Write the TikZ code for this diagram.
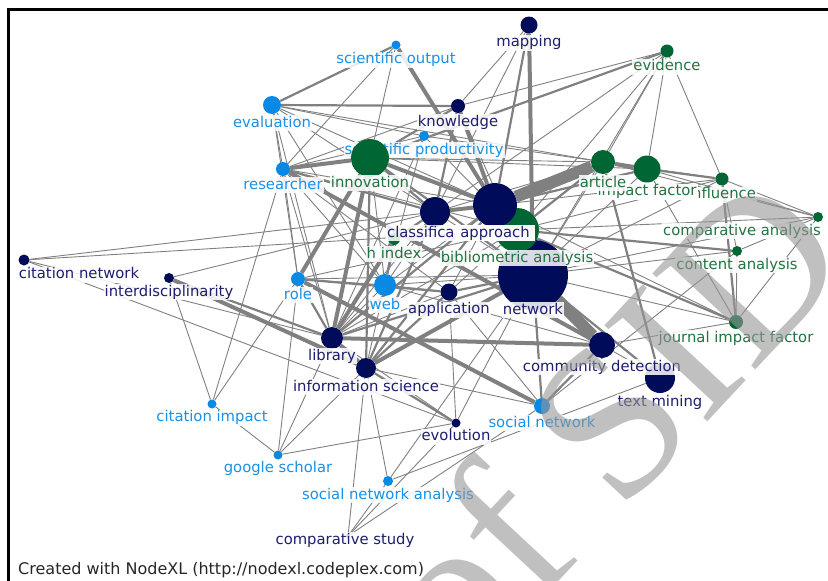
\documentclass[tikz,border=0pt]{standalone}
\usepackage{fontspec}
\setmainfont{DejaVu Sans}
\newfontfamily\markfont{Liberation Serif}
\usetikzlibrary{positioning}

\definecolor{navynode}{RGB}{0,12,90}
\definecolor{bluenode}{RGB}{8,138,228}
\definecolor{greennode}{RGB}{0,102,51}
\definecolor{navytext}{RGB}{30,30,110}
\definecolor{bluetext}{RGB}{25,145,230}
\definecolor{greentext}{RGB}{35,115,65}
\definecolor{linkgray}{RGB}{128,128,128}
\definecolor{markgray}{RGB}{150,150,150}

\pgfdeclarelayer{background}
\pgfsetlayers{background,main}

\begin{document}
\begin{tikzpicture}[x=1pt, y=-1pt,
    vtx/.style={circle, inner sep=0pt, minimum size=#1},
    navyvtx/.style={vtx=#1, fill=navynode},
    bluevtx/.style={vtx=#1, fill=bluenode},
    greenvtx/.style={vtx=#1, fill=greennode},
    lbl/.style={font=\fontsize{14.8}{16}\selectfont, inner sep=1pt, text height=11pt, text depth=3pt,
                fill=white, fill opacity=0.85, text opacity=1},
    navylbl/.style={lbl, text=navytext},
    bluelbl/.style={lbl, text=bluetext},
    greenlbl/.style={lbl, text=greentext},
    link/.style={draw=linkgray},
    thinlink/.style={link, line width=0.9pt},
    midlink/.style={link, line width=2.2pt},
    thicklink/.style={link, line width=4pt},
    widelink/.style={link, line width=12pt}
]
    \useasboundingbox (0,0) rectangle (828,581);

    % frame
    \draw[line width=3pt] (828,9.5) -| (8.5,581);

    % outer vertices
    \node[navyvtx=11pt] (citnet) at (24,260) {};
    \node[navylbl, below=1pt of citnet, xshift=55pt] {citation network};
    \node[navyvtx=10pt] (interdis) at (169,278) {};
    \node[navylbl, below=1pt of interdis] {interdisciplinarity};
    \node[bluevtx=9pt] (citimp) at (212,404) {};
    \node[bluelbl, below=1pt of citimp] {citation impact};
    \node[bluevtx=9pt] (google) at (278,455) {};
    \node[bluelbl, below=1pt of google] {google scholar};
    \node[bluevtx=10pt] (sna) at (388,481) {};
    \node[bluelbl, below=1pt of sna] {social network analysis};
    \node[navyvtx=4pt] (compstudy) at (348,536) {};
    \node[navylbl, below=-6pt of compstudy, xshift=-3pt] {comparative study};
    \node[navyvtx=9pt] (evolution) at (456,423) {};
    \node[navylbl, below=1pt of evolution] {evolution};
    \node[bluevtx=16pt] (socnet) at (542,406) {};
    \node[bluelbl, below=1pt of socnet] {social network};
    \node[navyvtx=30pt] (textmining) at (660,378) {};
    \node[navylbl, below=1pt of textmining] {text mining};
    \node[navyvtx=26pt] (community) at (602,345) {};
    \node[navylbl, below=1pt of community] {community detection};

    % right side
    \node[greenvtx=14pt] (jif) at (736,322) {};
    \node[greenlbl, below=1pt of jif] {journal impact factor};
    \node[greenvtx=10pt] (content) at (737,251) {};
    \node[greenlbl, below=1pt of content] {content analysis};
    \node[greenvtx=10pt] (companal) at (818,217) {};
    \node[greenlbl, below=1pt of companal, xshift=-76pt] {comparative analysis};
    \node[greenvtx=13pt] (influence) at (722,179) {};
    \node[greenlbl, below=1pt of influence] {influence};
    \node[greenvtx=27pt] (impact) at (647,169) {};
    \node[greenlbl, below=1pt of impact, fill opacity=0.95] {impact factor};
    \node[greenvtx=24pt] (article) at (603,162) {};
    \node[greenlbl, below=1pt of article] {article};
    \node[greenvtx=13pt] (evidence) at (667,51) {};
    \node[greenlbl, below=1pt of evidence] {evidence};

    % top and left
    \node[navyvtx=17pt] (mapping) at (529,25) {};
    \node[navylbl, below=1pt of mapping] {mapping};
    \node[bluevtx=9pt] (sciout) at (396,45) {};
    \node[bluelbl, below=2pt of sciout] {scientific output};
    \node[bluevtx=18pt] (evaluation) at (272,105) {};
    \node[bluelbl, below=1pt of evaluation] {evaluation};
    \node[navyvtx=14pt] (knowledge) at (458,106) {};
    \node[navylbl, below=1pt of knowledge] {knowledge};
    \node[bluevtx=10pt] (sciprod) at (424,136) {};
    \node[bluelbl, below=1pt of sciprod] {scientific productivity};
    \node[bluevtx=14pt] (researcher) at (283,169) {};
    \node[bluelbl, below=1pt of researcher] {researcher};
    \node[greenvtx=38pt] (innovation) at (370,158) {};
    \node[greenlbl, below=-2pt of innovation] {innovation};

    % centre
    \node[bluevtx=14pt] (role) at (298,279) {};
    \node[bluelbl, below=1pt of role] {role};
    \node[bluevtx=22pt] (web) at (385,285) {};
    \node[bluelbl, below=1pt of web] {web};
    \node[navyvtx=17pt] (application) at (449,292) {};
    \node[navylbl, below=1pt of application] {application};
    \node[navyvtx=22pt] (library) at (332,338) {};
    \node[navylbl, below=-1pt of library] {library};
    \node[navyvtx=20pt] (infosci) at (366,368) {};
    \node[navylbl, below=1pt of infosci] {information science};
    \node[greenvtx=12pt] (hindex) at (394,239) {};
    \node[greenlbl, below=1pt of hindex] {h index};
    \node[navyvtx=70pt] (network) at (533,275) {};
    \node[navylbl] at (533,310) {network};
    \node[greenvtx=44pt] (biblio) at (517,230) {};
    \node[greenlbl, below=-2pt of biblio] {bibliometric analysis};
    \node[navyvtx=30pt] (classif) at (435,212) {};
    \node[navylbl, below=-2pt of classif] {classification};
    \node[navyvtx=44pt] (approach) at (495,205) {};
    \node[navylbl, below=-2pt of approach, inner xsep=5pt, fill opacity=0.97] {approach};

    % edges
    \begin{pgfonlayer}{background}
    \foreach \a/\b in {mapping/knowledge, mapping/classif, sciout/researcher, sciout/innovation,
        evidence/knowledge, evidence/article, evidence/impact, evidence/influence, evidence/biblio,
        evidence/network, evidence/classif, evaluation/sciprod, evaluation/article, evaluation/researcher,
        evaluation/role, evaluation/library, evaluation/web, evaluation/classif, evaluation/approach,
        knowledge/researcher, knowledge/network, sciprod/researcher, sciprod/influence, sciprod/web,
        sciprod/library, sciprod/biblio, innovation/article, innovation/impact, innovation/web,
        researcher/role, researcher/library, researcher/web, researcher/approach, researcher/biblio,
        researcher/citimp, researcher/application, article/influence, article/network, article/classif,
        article/companal, impact/companal, impact/jif, impact/network, influence/companal,
        influence/content, influence/network, influence/biblio, influence/classif, companal/jif,
        companal/content, companal/network, companal/biblio, content/jif, content/network,
        content/socnet, jif/network, jif/approach, jif/community, classif/library, classif/web,
        classif/network, approach/web, approach/application, biblio/application, biblio/role,
        biblio/citnet, biblio/library, network/web, network/evolution, citnet/library,
        citnet/evolution, citnet/classif, interdis/classif, web/library, web/infosci,
        web/application, web/role, web/community, application/evolution, application/socnet,
        application/library, role/google, role/citimp, role/network, library/evolution,
        library/google, infosci/compstudy, infosci/sna, infosci/google, infosci/socnet,
        evolution/google, citimp/google, citimp/interdis, sna/compstudy, sna/textmining,
        sna/network, compstudy/evolution, compstudy/socnet, community/textmining}
        \draw[thinlink] (\a) -- (\b);
    \foreach \a/\b in {mapping/approach, sciout/evaluation, evidence/innovation, evaluation/knowledge,
        knowledge/innovation, knowledge/classif, innovation/infosci, innovation/classif,
        innovation/network, researcher/classif, article/biblio, article/textmining, impact/influence,
        impact/approach, influence/jif, content/biblio, jif/biblio, classif/infosci, classif/hindex,
        approach/biblio, approach/library, approach/infosci, biblio/network, network/application,
        network/socnet, network/textmining, network/library, interdis/library, application/infosci,
        role/library, role/application, infosci/evolution, socnet/community, hindex/web}
        \draw[midlink] (\a) -- (\b);
    \foreach \a/\b in {mapping/network, sciout/approach, knowledge/approach, innovation/researcher,
        innovation/approach, innovation/role, innovation/library, researcher/community, article/impact,
        classif/approach, approach/network, network/infosci, interdis/infosci, role/socnet,
        library/infosci, library/community, hindex/library}
        \draw[thicklink] (\a) -- (\b);
    \foreach \a/\b in {article/approach, network/community}
        \draw[widelink] (\a) -- (\b);
    \end{pgfonlayer}

    % footer
    \node[anchor=west, inner sep=0pt, font=\fontsize{16}{18}\selectfont, text=black!85] (credit)
        at (18,570) {Created with NodeXL (http://nodexl.codeplex.com)};

    % watermark
    \node[rotate=47, font=\markfont\fontsize{215}{215}\selectfont, text=markgray, text opacity=0.6]
        (mark) at (605,422) {of SID};
\end{tikzpicture}
\end{document}
